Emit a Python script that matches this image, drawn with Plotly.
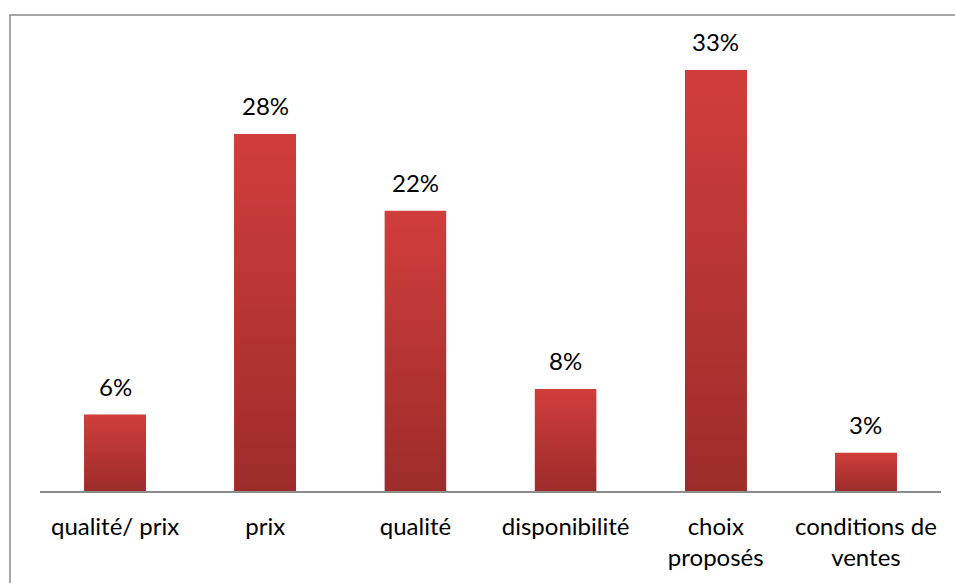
import plotly.graph_objects as go

# Survey results: main purchase criterion
categories = ["qualité/ prix", "prix", "qualité", "disponibilité",
              "choix<br>proposés", "conditions de<br>ventes"]
values = [0.06, 0.28, 0.22, 0.08, 0.33, 0.03]
value_labels = ["6%", "28%", "22%", "8%", "33%", "3%"]

BAR_WIDTH = 0.41
TOP_COLOR = "#D03E3B"
BOTTOM_COLOR = "#9C2C2A"
FONT = "Lato"
FONT_SIZE = 24

fig = go.Figure()

# Base bar trace (carries the values)
fig.add_trace(go.Bar(
    x=list(range(len(values))), y=values, width=BAR_WIDTH,
    marker=dict(color=TOP_COLOR, line=dict(width=0)),
    hoverinfo="skip", showlegend=False,
))

# Vertical gradient fill over each bar
for i, v in enumerate(values):
    x0, x1 = i - BAR_WIDTH / 2, i + BAR_WIDTH / 2
    fig.add_trace(go.Scatter(
        x=[x0, x1, x1, x0, x0], y=[0, 0, v, v, 0],
        mode="lines", line=dict(width=0), fill="toself",
        fillgradient=dict(type="vertical",
                          colorscale=[[0, BOTTOM_COLOR], [1, TOP_COLOR]]),
        hoverinfo="skip", showlegend=False,
    ))

# Value labels above bars
for i, (v, lab) in enumerate(zip(values, value_labels)):
    fig.add_annotation(x=i, y=v, text=lab, showarrow=False,
                       yanchor="bottom", yshift=12,
                       font=dict(family=FONT, size=FONT_SIZE, color="#000000"))

# Outer chart frame
fig.add_shape(type="rect", xref="paper", yref="paper",
              x0=-30 / 901, x1=1.03, y0=-0.3, y1=(491 - 15) / 446,
              line=dict(color="#8A8A8A", width=1.5), layer="below")

fig.update_layout(
    width=955, height=583,
    margin=dict(l=40, r=14, t=45, b=92, autoexpand=False),
    paper_bgcolor="white", plot_bgcolor="white",
    font=dict(family=FONT, size=FONT_SIZE, color="#000000"),
    bargap=0,
    xaxis=dict(
        range=[-0.5, len(values) - 0.5], automargin=False,
        tickmode="array", tickvals=list(range(len(values))),
        ticktext=categories, ticks="", showgrid=False, zeroline=False,
        showline=True, linecolor="#8C8C8C", linewidth=1.5,
        ticklabelstandoff=13, tickfont=dict(family=FONT, size=FONT_SIZE),
        fixedrange=True,
    ),
    yaxis=dict(range=[0, 0.35], visible=False, showgrid=False,
               zeroline=False, fixedrange=True, automargin=False),
)

fig.write_html("out.html")
